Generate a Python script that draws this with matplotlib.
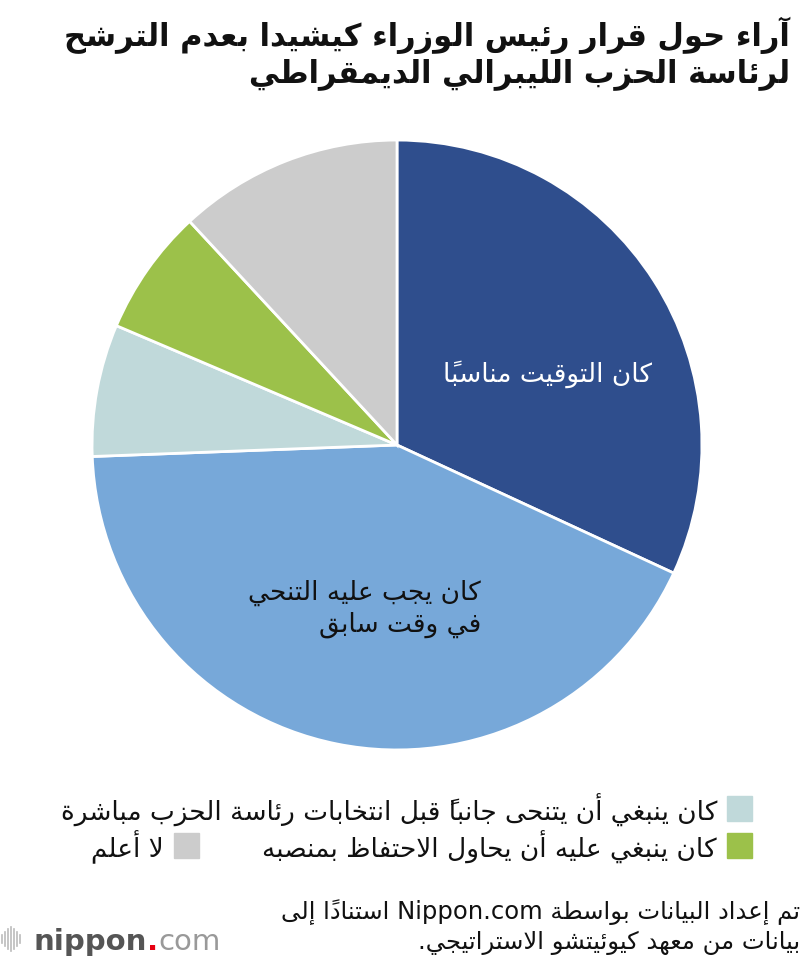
import matplotlib
matplotlib.use('Agg')
import matplotlib.pyplot as plt
from matplotlib.lines import Line2D

plt.rcParams['font.family'] = ['DejaVu Sans']

# Data
title_lines = ['آراء حول قرار رئيس الوزراء كيشيدا بعدم الترشح',
               'لرئاسة الحزب الليبرالي الديمقراطي']
categories = ['كان التوقيت مناسبًا',
              'كان يجب عليه التنحي في وقت سابق',
              'كان ينبغي أن يتنحى جانباً قبل انتخابات رئاسة الحزب مباشرة',
              'كان ينبغي عليه أن يحاول الاحتفاظ بمنصبه',
              'لا أعلم']
shares = [31.9, 42.5, 7.0, 6.7, 11.9]
colors = ['#2f4e8d', '#77a8d9', '#c0d9da', '#9cc14a', '#cccccc']
inner_label_1 = ['كان التوقيت مناسبًا']
inner_label_2 = ['كان يجب عليه التنحي', 'في وقت سابق']
source_lines = ['تم إعداد البيانات بواسطة Nippon.com استنادًا إلى',
                'بيانات من معهد كيوئيتشو الاستراتيجي.']

# --- minimal arabic shaping (matplotlib draws glyphs left to right, unjoined) ---
_FORMS = {}
for ch, base, n in [('ء', 0xFE80, 1), ('آ', 0xFE81, 2), ('أ', 0xFE83, 2), ('ؤ', 0xFE85, 2),
                    ('إ', 0xFE87, 2), ('ئ', 0xFE89, 4), ('ا', 0xFE8D, 2), ('ب', 0xFE8F, 4),
                    ('ة', 0xFE93, 2), ('ت', 0xFE95, 4), ('ث', 0xFE99, 4), ('ج', 0xFE9D, 4),
                    ('ح', 0xFEA1, 4), ('خ', 0xFEA5, 4), ('د', 0xFEA9, 2), ('ذ', 0xFEAB, 2),
                    ('ر', 0xFEAD, 2), ('ز', 0xFEAF, 2), ('س', 0xFEB1, 4), ('ش', 0xFEB5, 4),
                    ('ص', 0xFEB9, 4), ('ض', 0xFEBD, 4), ('ط', 0xFEC1, 4), ('ظ', 0xFEC5, 4),
                    ('ع', 0xFEC9, 4), ('غ', 0xFECD, 4), ('ف', 0xFED1, 4), ('ق', 0xFED5, 4),
                    ('ك', 0xFED9, 4), ('ل', 0xFEDD, 4), ('م', 0xFEE1, 4), ('ن', 0xFEE5, 4),
                    ('ه', 0xFEE9, 4), ('و', 0xFEED, 2), ('ى', 0xFEEF, 2), ('ي', 0xFEF1, 4)]:
    _FORMS[ch] = (base, n)
_LAMALEF = {'آ': (0xFEF5, 0xFEF6), 'أ': (0xFEF7, 0xFEF8),
            'إ': (0xFEF9, 0xFEFA), 'ا': (0xFEFB, 0xFEFC)}


def is_mark(c):
    return '\u064B' <= c <= '\u0652'


def shape_word(w):
    clusters = []
    for c in w:
        if is_mark(c) and clusters:
            clusters[-1][1] += c
        else:
            clusters.append([c, ''])
    merged = []
    i = 0
    while i < len(clusters):
        b, m = clusters[i]
        if b == 'ل' and i + 1 < len(clusters) and clusters[i + 1][0] in _LAMALEF:
            merged.append(['LA' + clusters[i + 1][0], m + clusters[i + 1][1]])
            i += 2
        else:
            merged.append([b, m])
            i += 1
    out = []
    for i, (b, m) in enumerate(merged):
        prev = merged[i - 1][0] if i > 0 else None
        nxt = merged[i + 1][0] if i + 1 < len(merged) else None
        prev_joins = prev in _FORMS and _FORMS[prev][1] == 4
        if b.startswith('LA'):
            iso, fin = _LAMALEF[b[2]]
            g = chr(fin if prev_joins else iso)
        elif b in _FORMS:
            base, n = _FORMS[b]
            next_joins = n == 4 and nxt is not None and (
                (nxt in _FORMS and _FORMS[nxt][1] > 1) or nxt.startswith('LA'))
            if n == 1:
                g = chr(base)
            elif n == 2:
                g = chr(base + (1 if prev_joins else 0))
            else:
                if prev_joins and next_joins:
                    g = chr(base + 3)
                elif prev_joins:
                    g = chr(base + 1)
                elif next_joins:
                    g = chr(base + 2)
                else:
                    g = chr(base)
        else:
            g = b
        # mark goes before its base in visual order so it sits over it
        out.append(m + g)
    return ''.join(reversed(out))


def ar(s):
    words = []
    for w in s.split(' '):
        if any('\u0600' <= c <= '\u06FF' for c in w):
            words.append(shape_word(w))
        else:
            words.append(w)
    return ' '.join(reversed(words))


fig = plt.figure(figsize=(8, 9.62), dpi=100)
W, H = 800, 962


def fx(px):
    return px / W


def fy(py):
    return 1 - py / H


# Title
fig.text(fx(790), fy(35), ar(title_lines[0]), ha='right', va='center',
         fontsize=22, fontweight='bold', color='#111111')
fig.text(fx(790), fy(74), ar(title_lines[1]), ha='right', va='center',
         fontsize=22, fontweight='bold', color='#111111')

# Pie
cx, cy, r = 397, 446, 308
ax = fig.add_axes([fx(cx - r), fy(cy + r), 2 * r / W, 2 * r / H])
ax.pie(shares, colors=colors, startangle=90, counterclock=False, radius=1,
       wedgeprops=dict(edgecolor='white', linewidth=2))
ax.set_xlim(-1.01, 1.01)
ax.set_ylim(-1.01, 1.01)
ax.set_aspect('equal')
ax.axis('off')

ax.text((655 - cx) / r, (cy - 373) / r, ar(inner_label_1[0]), ha='right', va='center',
        fontsize=19, color='white')
ax.text((482 - cx) / r, (cy - 594) / r, ar(inner_label_2[0]), ha='right', va='center',
        fontsize=19, color='#111111')
ax.text((482 - cx) / r, (cy - 627) / r, ar(inner_label_2[1]), ha='right', va='center',
        fontsize=19, color='#111111')

# Legend
def legend_item(x_sq, y, color, label):
    fig.patches.append(plt.Rectangle((fx(x_sq), fy(y + 12)), 25 / W, 25 / H,
                                     transform=fig.transFigure, color=color))
    fig.text(fx(x_sq - 10), fy(y), ar(label), ha='right', va='center',
             fontsize=19, color='#111111')


legend_item(727, 810, colors[2], categories[2])
legend_item(727, 847, colors[3], categories[3])
legend_item(174, 847, colors[4], categories[4])

# Source
fig.text(fx(800), fy(912), ar(source_lines[0]), ha='right', va='center',
         fontsize=17.5, color='#111111')
fig.text(fx(800), fy(943), ar(source_lines[1]), ha='right', va='center',
         fontsize=17.5, color='#111111')

# nippon.com logo
for x, h in [(2, 8), (5, 14), (8, 20), (11, 24), (14, 20), (17, 14), (20, 8)]:
    fig.add_artist(Line2D([fx(x), fx(x)], [fy(940 + h / 2), fy(940 - h / 2)],
                          transform=fig.transFigure, color='#bbbbbb', lw=1.2))
renderer = fig.canvas.get_renderer()
t1 = fig.text(fx(34), fy(950), 'nippon', ha='left', va='baseline', fontsize=21,
              fontweight='bold', color='#555555')
x_end = t1.get_window_extent(renderer).x1 / W
t2 = fig.text(x_end, fy(950), '.', ha='left', va='baseline', fontsize=21,
              fontweight='bold', color='#e60012')
x_end = t2.get_window_extent(renderer).x1 / W
fig.text(x_end, fy(950), 'com', ha='left', va='baseline', fontsize=21,
         color='#999999')

fig.savefig('out.png', dpi=100)
